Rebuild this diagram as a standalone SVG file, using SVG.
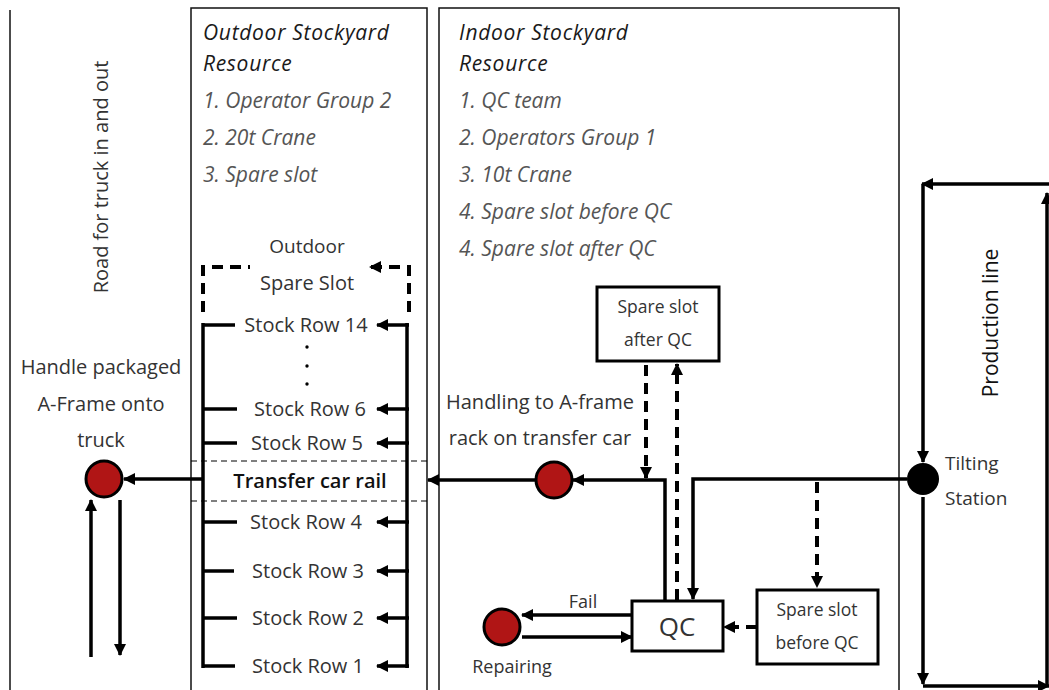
<svg xmlns="http://www.w3.org/2000/svg" width="1049" height="690" viewBox="0 0 1049 690">
<style>
.t{font-family:"Open Sans","Liberation Sans",sans-serif;font-size:20px;fill:#333}
.h{font-family:"Open Sans","Liberation Sans",sans-serif;font-size:21px;font-style:italic;letter-spacing:0.7px;fill:#1a1a1a}
.i{font-family:"Open Sans","Liberation Sans",sans-serif;font-size:21px;font-style:italic;fill:#555}
.c{text-anchor:middle}
.s{font-size:17.5px}
.box{fill:none;stroke:#111;stroke-width:1.5}
.nb{fill:#fff;stroke:#000;stroke-width:3}
.thk{fill:none;stroke:#000;stroke-width:3.5}
.dsh{fill:none;stroke:#000;stroke-width:4;stroke-dasharray:11 7}
.red{fill:#b01515;stroke:#000;stroke-width:3}
.rail{fill:none;stroke:#000;stroke-width:1.2;stroke-dasharray:6 4}
</style>
<defs>
<marker id="ah" markerUnits="userSpaceOnUse" markerWidth="12" markerHeight="12" refX="11" refY="6" orient="auto">
<path d="M0,0 L12,6 L0,12 z" fill="#000"/>
</marker>
</defs>
<rect width="1049" height="690" fill="#fff"/>

<g id="road">
<line x1="10" y1="10" x2="10" y2="690" class="box"/>
<text class="t c" transform="translate(108,177) rotate(-90)">Road for truck in and out</text>
</g>

<g id="outdoor-area">
<path d="M191,690 V8 H427 V690" class="box"/>
<text class="h" x="203" y="40">Outdoor Stockyard</text>
<text class="h" x="203" y="71">Resource</text>
<text class="i" x="203" y="108">1. Operator Group 2</text>
<text class="i" x="203" y="145">2. 20t Crane</text>
<text class="i" x="203" y="182">3. Spare slot</text>
</g>

<g id="indoor-area">
<path d="M439,690 V8 H899 V690" class="box"/>
<text class="h" x="459" y="40">Indoor Stockyard</text>
<text class="h" x="459" y="71">Resource</text>
<text class="i" x="459" y="108">1. QC team</text>
<text class="i" x="459" y="145">2. Operators Group 1</text>
<text class="i" x="459" y="182">3. 10t Crane</text>
<text class="i" x="459" y="219">4. Spare slot before QC</text>
<text class="i" x="459" y="256">4. Spare slot after QC</text>
</g>

<g id="outdoor-spare-slot">
<text class="t c" x="307" y="253" style="font-size:19px">Outdoor</text>
<path d="M203,312 V267 H250" class="dsh"/>
<path d="M409,312 V267 H370" class="dsh" marker-end="url(#ah)"/>
<text class="t c" x="307" y="290">Spare Slot</text>
</g>

<g id="transfer-car-rail">
<line x1="191" y1="461" x2="427" y2="461" class="rail"/>
<line x1="191" y1="501" x2="427" y2="501" class="rail"/>
<text class="t c" x="310" y="488" style="font-weight:600;fill:#111">Transfer car rail</text>
</g>

<g id="stock-rows">
<text class="t c" x="306" y="332">Stock Row 14</text>
<circle cx="307" cy="347" r="1.7" fill="#000"/>
<circle cx="307" cy="366" r="1.7" fill="#000"/>
<circle cx="307" cy="384" r="1.7" fill="#000"/>
<text class="t c" x="310" y="416">Stock Row 6</text>
<text class="t c" x="307" y="450">Stock Row 5</text>
<text class="t c" x="306" y="529">Stock Row 4</text>
<text class="t c" x="308" y="578">Stock Row 3</text>
<text class="t c" x="308" y="625">Stock Row 2</text>
<text class="t c" x="308" y="673">Stock Row 1</text>
</g>

<g id="handle-truck">
<text class="t c" x="101" y="374">Handle packaged</text>
<text class="t c" x="101" y="411">A-Frame onto</text>
<text class="t c" x="101" y="447">truck</text>
<circle cx="104" cy="479" r="18" class="red"/>
</g>

<g id="handling-transfer">
<text class="t c" x="540" y="409">Handling to A-frame</text>
<text class="t c" x="540" y="445">rack on transfer car</text>
<circle cx="554" cy="480" r="18" class="red"/>
</g>

<g id="spare-after-qc">
<rect x="597" y="287" width="122" height="74" class="nb"/>
<text class="t c s" x="658" y="313">Spare slot</text>
<text class="t c s" x="658" y="346">after QC</text>
</g>

<g id="qc">
<rect x="632" y="601" width="91" height="50" class="nb"/>
<text class="t c" x="677" y="636" style="font-size:26px">QC</text>
</g>

<g id="spare-before-qc">
<rect x="757" y="590" width="121" height="74" class="nb"/>
<text class="t c s" x="817" y="616">Spare slot</text>
<text class="t c s" x="817" y="649">before QC</text>
</g>

<g id="repairing">
<circle cx="502" cy="627" r="18" class="red"/>
<text class="t c" x="512" y="673" style="font-size:18px">Repairing</text>
<text class="t c" x="583" y="608" style="font-size:18px">Fail</text>
</g>

<g id="tilting-station">
<circle cx="923" cy="479" r="16" fill="#000"/>
<text class="t" x="945" y="470" style="font-size:19px">Tilting</text>
<text class="t" x="945" y="505" style="font-size:19px">Station</text>
</g>

<g id="production-line">
<text class="t c" transform="translate(998,323) rotate(-90)" style="fill:#111;font-size:21px;font-weight:500">Production line</text>
</g>

<g id="connectors">
<line x1="203" y1="323" x2="203" y2="668" class="thk"/>
<line x1="407" y1="323" x2="407" y2="668" class="thk"/>
<line x1="202" y1="325" x2="235" y2="325" class="thk"/>
<line x1="202" y1="409" x2="237" y2="409" class="thk"/>
<line x1="202" y1="443" x2="237" y2="443" class="thk"/>
<line x1="202" y1="522" x2="237" y2="522" class="thk"/>
<line x1="202" y1="571" x2="234" y2="571" class="thk"/>
<line x1="202" y1="618" x2="237" y2="618" class="thk"/>
<line x1="202" y1="666" x2="235" y2="666" class="thk"/>
<line x1="409" y1="325" x2="377" y2="325" class="thk" marker-end="url(#ah)"/>
<line x1="409" y1="409" x2="377" y2="409" class="thk" marker-end="url(#ah)"/>
<line x1="409" y1="443" x2="377" y2="443" class="thk" marker-end="url(#ah)"/>
<line x1="409" y1="522" x2="377" y2="522" class="thk" marker-end="url(#ah)"/>
<line x1="409" y1="571" x2="377" y2="571" class="thk" marker-end="url(#ah)"/>
<line x1="409" y1="618" x2="377" y2="618" class="thk" marker-end="url(#ah)"/>
<line x1="409" y1="666" x2="377" y2="666" class="thk" marker-end="url(#ah)"/>
<line x1="203" y1="479" x2="124" y2="479" class="thk" marker-end="url(#ah)"/>
<line x1="91" y1="657" x2="91" y2="500" class="thk" marker-end="url(#ah)"/>
<line x1="120" y1="500" x2="120" y2="655" class="thk" marker-end="url(#ah)"/>
<line x1="536" y1="480" x2="428" y2="480" class="thk" marker-end="url(#ah)"/>
<path d="M665,601 V480 H573" class="thk" marker-end="url(#ah)"/>
<line x1="646" y1="365" x2="646" y2="478" class="dsh" marker-end="url(#ah)"/>
<line x1="677" y1="600" x2="677" y2="364" class="dsh" marker-end="url(#ah)"/>
<path d="M907,479 H693 V599" class="thk" marker-end="url(#ah)"/>
<line x1="817" y1="482" x2="817" y2="587" class="dsh" marker-end="url(#ah)"/>
<line x1="757" y1="627" x2="724" y2="627" class="dsh" marker-end="url(#ah)"/>
<line x1="632" y1="615" x2="522" y2="615" class="thk" marker-end="url(#ah)"/>
<line x1="522" y1="637" x2="632" y2="637" class="thk" marker-end="url(#ah)"/>
<line x1="1047" y1="686" x2="1047" y2="193" class="thk" marker-end="url(#ah)"/>
<line x1="1049" y1="184" x2="922" y2="184" class="thk" marker-end="url(#ah)"/>
<line x1="923" y1="184" x2="923" y2="462" class="thk" marker-end="url(#ah)"/>
<line x1="923" y1="497" x2="923" y2="684" class="thk" marker-end="url(#ah)"/>
<line x1="923" y1="686" x2="1049" y2="686" class="thk" marker-end="url(#ah)"/>
</g>
</svg>
